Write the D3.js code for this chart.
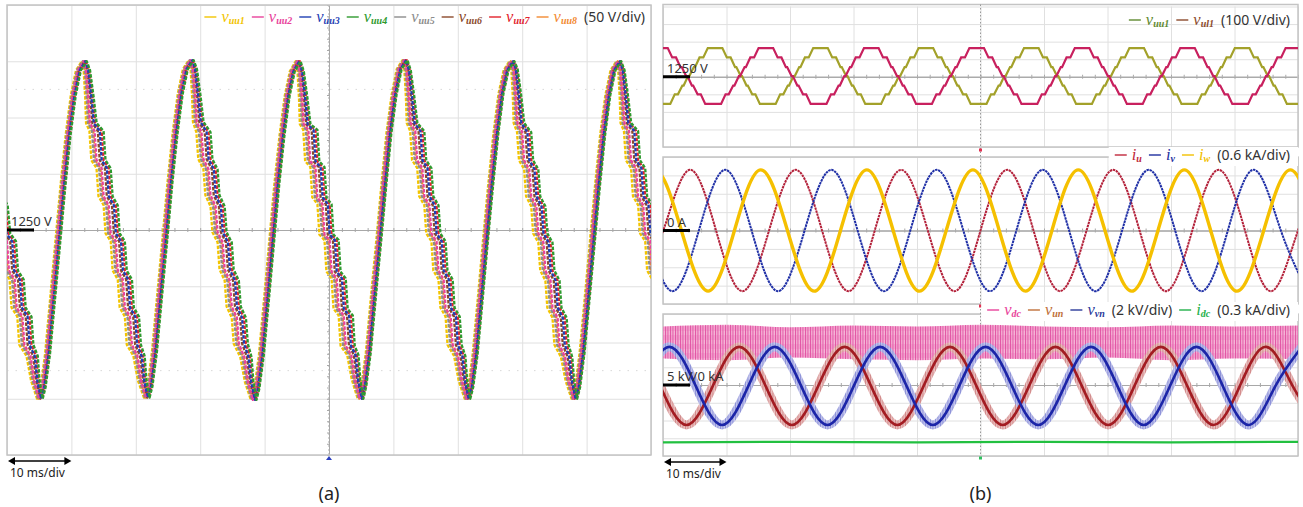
<!DOCTYPE html>
<html>
<head>
<meta charset="utf-8">
<script src="https://cdn.jsdelivr.net/npm/d3@7"></script>
<style>
  body { margin: 0; background: #fff; }
  svg { display: block; font-family: "Noto Sans", "Open Sans", sans-serif; }
  .grid line { stroke: #e0e0e0; stroke-width: 1; }
  .grid path { display: none; }
  .center path { stroke: #a8a8a8; }
  .center line { stroke: #a8a8a8; }
</style>
</head>
<body>
<svg id="chart" width="1303" height="507"></svg>
<script>
// ---- panel (a): eight upper-arm submodule voltages ----
var vuuNames  = ["uu1", "uu2", "uu3", "uu4", "uu5", "uu6", "uu7", "uu8"];
var vuuColors = ["#f2c400", "#e8439b", "#1f3fb4", "#2e9a2e", "#8c8c8c", "#8b4a2b", "#e2222c", "#f28a32"];
var vuuLag    = [-1.1, -0.3, 0.5, 1.1, -0.7, 0.2, 0.8, -0.5];   // ms, how far each trace sits from the bundle centre
var vuuDrawOrder = [0, 7, 4, 5, 1, 6, 2, 3];

// [time ms, voltage V, bundle spread 0..1]
var vuuBase = [
  [-1.8,1280,1],[-1.0,1272,1],[-0.6,1247,1],[0.3,1240,1],[0.6,1214,1],[1.5,1206,1],[1.8,1181,1],[2.7,1173,1],[3.0,1148,1],[3.9,1138,.8],[4.4,1116,.6],
  [5.1,1100,.4],[5.6,1110,.35],[6.3,1140,.35],[7.1,1190,.35],[7.9,1240,.35],[8.7,1290,.35],[9.5,1335,.35],[10.3,1370,.35],[11.1,1392,.35],[12.0,1400,.35],
  [12.4,1392,.45],[12.8,1368,.6],[13.1,1345,.75],[13.9,1338,1],[14.2,1312,1],[15.0,1305,1],[15.3,1280,1],[16.1,1272,1],[16.4,1247,1],[17.2,1240,1],
  [17.5,1214,1],[18.3,1206,1],[18.6,1181,1],[19.4,1173,1],[19.7,1148,1],[20.5,1138,.8],[21.0,1116,.6],
  [21.7,1101,.4],[22.2,1111,.35],[22.9,1142,.35],[23.7,1192,.35],[24.5,1241,.35],[25.3,1292,.35],[26.1,1336,.35],[26.9,1371,.35],[27.7,1393,.35],[28.6,1401,.35],
  [29.0,1393,.45],[29.4,1369,.6],[29.7,1346,.75],[30.5,1337,1],[30.8,1313,1],[31.6,1304,1],[31.9,1281,1],[32.7,1271,1],[33.0,1248,1],[33.8,1239,1],
  [34.1,1215,1],[34.9,1205,1],[35.2,1182,1],[36.0,1172,1],[36.3,1149,1],[37.1,1137,.8],[37.6,1115,.6],
  [38.3,1099,.4],[38.8,1109,.35],[39.5,1139,.35],[40.3,1189,.35],[41.1,1240,.35],[41.9,1291,.35],[42.7,1334,.35],[43.5,1369,.35],[44.3,1391,.35],[45.2,1400,.35],
  [45.6,1391,.45],[46.0,1367,.6],[46.3,1344,.75],[47.1,1339,1],[47.4,1311,1],[48.2,1306,1],[48.5,1279,1],[49.3,1273,1],[49.6,1246,1],[50.4,1241,1],
  [50.7,1213,1],[51.5,1207,1],[51.8,1180,1],[52.6,1174,1],[52.9,1147,1],[53.7,1139,.8],[54.2,1117,.6],
  [54.9,1100,.4],[55.4,1111,.35],[56.1,1141,.35],[56.9,1191,.35],[57.7,1239,.35],[58.5,1289,.35],[59.3,1336,.35],[60.1,1370,.35],[60.9,1393,.35],[61.8,1401,.35],
  [62.2,1392,.45],[62.6,1368,.6],[62.9,1345,.75],[63.7,1338,1],[64.0,1312,1],[64.8,1305,1],[65.1,1280,1],[65.9,1272,1],[66.2,1247,1],[67.0,1240,1],
  [67.3,1214,1],[68.1,1206,1],[68.4,1181,1],[69.2,1173,1],[69.5,1148,1],[70.3,1138,.8],[70.8,1116,.6],
  [71.5,1100,.4],[72.0,1110,.35],[72.7,1140,.35],[73.5,1190,.35],[74.3,1241,.35],[75.1,1290,.35],[75.9,1335,.35],[76.7,1371,.35],[77.5,1392,.35],[78.4,1400,.35],
  [78.8,1393,.45],[79.2,1369,.6],[79.5,1345,.75],[80.3,1337,1],[80.6,1312,1],[81.4,1304,1],[81.7,1280,1],[82.5,1271,1],[82.8,1247,1],[83.6,1239,1],
  [83.9,1214,1],[84.7,1205,1],[85.0,1181,1],[85.8,1172,1],[86.1,1148,1],[86.9,1137,.8],[87.4,1116,.6],
  [88.1,1100,.4],[88.6,1110,.35],[89.3,1141,.35],[90.1,1190,.35],[90.9,1240,.35],[91.7,1290,.35],[92.5,1335,.35],[93.3,1370,.35],[94.1,1392,.35],[95.0,1400,.35],
  [95.4,1392,.45],[95.8,1368,.6],[96.1,1345,.75],[96.9,1338,1],[97.2,1312,1],[98.0,1305,1],[98.3,1280,1],[99.1,1272,1],[99.4,1247,1],[100.2,1240,1],[100.5,1214,1],[101.3,1206,1]
];

// ---- panel (b) top: arm voltages, [step time ms, level V] ----
var vuu1Steps = [
  [0,1095],[1.5,1150],[2.7,1200],[3.6,1254],[4.5,1305],[5.4,1360],[6.7,1413],[9.7,1360],[11.0,1305],[11.9,1254],[12.8,1200],[13.7,1150],[14.9,1095],
  [18.1,1150],[19.3,1200],[20.2,1254],[21.1,1305],[22.0,1360],[23.3,1413],[26.3,1360],[27.6,1305],[28.5,1254],[29.4,1200],[30.3,1150],[31.5,1095],
  [34.7,1150],[35.9,1200],[36.8,1254],[37.7,1305],[38.6,1360],[39.9,1413],[42.9,1360],[44.2,1305],[45.1,1254],[46.0,1200],[46.9,1150],[48.1,1095],
  [51.3,1150],[52.5,1200],[53.4,1254],[54.3,1305],[55.2,1360],[56.5,1413],[59.5,1360],[60.8,1305],[61.7,1254],[62.6,1200],[63.5,1150],[64.7,1095],
  [67.9,1150],[69.1,1200],[70.0,1254],[70.9,1305],[71.8,1360],[73.1,1413],[76.1,1360],[77.4,1305],[78.3,1254],[79.2,1200],[80.1,1150],[81.3,1095],
  [84.5,1150],[85.7,1200],[86.6,1254],[87.5,1305],[88.4,1360],[89.7,1413],[92.7,1360],[94.0,1305],[94.9,1254],[95.8,1200],[96.7,1150],[97.9,1095],
  [100,1095]
];
var vul1Steps = [
  [0,1413],[1.1,1360],[2.4,1305],[3.3,1254],[4.2,1200],[5.1,1150],[6.3,1095],
  [9.5,1150],[10.7,1200],[11.6,1254],[12.5,1305],[13.4,1360],[14.7,1413],[17.7,1360],[19.0,1305],[19.9,1254],[20.8,1200],[21.7,1150],[22.9,1095],
  [26.1,1150],[27.3,1200],[28.2,1254],[29.1,1305],[30.0,1360],[31.3,1413],[34.3,1360],[35.6,1305],[36.5,1254],[37.4,1200],[38.3,1150],[39.5,1095],
  [42.7,1150],[43.9,1200],[44.8,1254],[45.7,1305],[46.6,1360],[47.9,1413],[50.9,1360],[52.2,1305],[53.1,1254],[54.0,1200],[54.9,1150],[56.1,1095],
  [59.3,1150],[60.5,1200],[61.4,1254],[62.3,1305],[63.2,1360],[64.5,1413],[67.5,1360],[68.8,1305],[69.7,1254],[70.6,1200],[71.5,1150],[72.7,1095],
  [75.9,1150],[77.1,1200],[78.0,1254],[78.9,1305],[79.8,1360],[81.1,1413],[84.1,1360],[85.4,1305],[86.3,1254],[87.2,1200],[88.1,1150],[89.3,1095],
  [92.5,1150],[93.7,1200],[94.6,1254],[95.5,1305],[96.4,1360],[97.7,1413],[100,1413]
];
var stepRamp = 0.35;   // ms of slope on each side of a level change

// ---- panel (b) middle: phase currents, kA (peaks, zeros, troughs) ----
var iuPts = [[-4.1,-1.98],[0.05,0],[4.2,1.98],[8.35,0],[12.5,-1.98],[16.7,0],[20.9,1.98],[25.05,0],[29.2,-1.98],[33.35,0],[37.5,1.98],[41.7,0],[45.9,-1.98],[50.0,0],[54.2,1.98],[58.35,0],[62.5,-1.98],[66.7,0],[70.9,1.98],[75.05,0],[79.2,-1.98],[83.35,0],[87.5,1.98],[91.65,0],[95.8,-1.98],[100,0],[104.1,1.98]];
var ivPts = [[-2.65,0],[1.5,-1.98],[5.65,0],[9.8,1.98],[13.95,0],[18.1,-1.98],[22.3,0],[26.5,1.98],[30.65,0],[34.8,-1.98],[38.95,0],[43.1,1.98],[47.3,0],[51.5,-1.98],[55.65,0],[59.8,1.98],[63.95,0],[68.1,-1.98],[72.3,0],[76.5,1.98],[80.65,0],[84.8,-1.98],[88.95,0],[93.1,1.98],[97.3,0],[101.5,-1.98]];
var iwPts = [[-5.45,0],[-1.3,1.98],[2.9,0],[7.1,-1.98],[11.25,0],[15.4,1.98],[19.6,0],[23.8,-1.98],[27.95,0],[32.1,1.98],[36.25,0],[40.4,-1.98],[44.6,0],[48.8,1.98],[52.95,0],[57.1,-1.98],[61.25,0],[65.4,1.98],[69.6,0],[73.8,-1.98],[77.95,0],[82.1,1.98],[86.25,0],[90.4,-1.98],[94.6,0],[98.8,1.98],[102.95,0]];

// ---- panel (b) bottom: dc voltage band, pole voltages (kV), dc current (kA) ----
var vdcTime   = [0, 10, 20, 30, 40, 50, 60, 70, 80, 90, 100];
var vdcTop    = [11.6, 11.8, 11.5, 11.7, 11.6, 11.8, 11.6, 11.5, 11.7, 11.6, 11.7];
var vdcBottom = [8.0, 7.8, 8.1, 7.9, 7.8, 8.0, 7.9, 8.1, 7.8, 8.0, 7.9];
var vunPts = [[-0.45,4.9],[3.7,0.5],[7.85,4.9],[12.0,9.3],[16.15,4.9],[20.3,0.5],[24.45,4.9],[28.6,9.3],[32.75,4.9],[36.9,0.5],[41.05,4.9],[45.2,9.3],[49.35,4.9],[53.5,0.5],[57.65,4.9],[61.8,9.3],[65.95,4.9],[70.1,0.5],[74.25,4.9],[78.4,9.3],[82.55,4.9],[86.7,0.5],[90.85,4.9],[95.0,9.3],[99.15,4.9],[103.3,0.5]];
var vvnPts = [[-3.15,4.9],[1.0,9.3],[5.15,4.9],[9.3,0.5],[13.45,4.9],[17.6,9.3],[21.75,4.9],[25.9,0.5],[30.05,4.9],[34.2,9.3],[38.35,4.9],[42.5,0.5],[46.65,4.9],[50.8,9.3],[54.95,4.9],[59.1,0.5],[63.25,4.9],[67.4,9.3],[71.55,4.9],[75.7,0.5],[79.85,4.9],[84.0,9.3],[88.15,4.9],[92.3,0.5],[96.45,4.9],[100.6,9.3]];
var idcPts = [[0,-0.97],[20,-0.96],[40,-0.97],[60,-0.96],[80,-0.97],[100,-0.96]];

var divTicks = d3.range(0, 101, 10);

var svg = d3.select("#chart");
var defs = svg.append("defs");

// striped fills that stand in for the switching ripple
function stripes(id, w, h, bg, lines) {
  var p = defs.append("pattern").attr("id", id)
    .attr("patternUnits", "userSpaceOnUse").attr("width", w).attr("height", h);
  p.append("rect").attr("width", w).attr("height", h).attr("fill", bg);
  lines.forEach(function(l) {
    p.append("line").attr("x1", l[0]).attr("x2", l[0]).attr("y1", l[1]).attr("y2", l[2])
      .attr("stroke", l[3]).attr("stroke-width", l[4]);
  });
}
stripes("vdcNoise", 2.5, 9, "#f5b5d7", [[0.5, 0, 9, "#e04a9f", 0.9], [1.7, 2, 7, "#ec7fbd", 0.6]]);
stripes("unNoise", 2.5, 7, "#ebc4c4", [[0.5, 0, 7, "#c97777", 0.8], [1.7, 1, 5, "#dba0a0", 0.6]]);
stripes("vnNoise", 2.5, 7, "#c6c7ec", [[0.5, 0, 7, "#7a7fd3", 0.8], [1.7, 1, 5, "#a3a6e0", 0.6]]);

function addClip(id, x0, y0, x1, y1) {
  defs.append("clipPath").attr("id", id).append("rect")
    .attr("x", x0).attr("y", y0).attr("width", x1 - x0).attr("height", y1 - y0);
}

function grid(g, x, y, yTicks) {
  var y0 = y.range()[0], y1 = y.range()[1];
  g.append("g").attr("class", "grid")
    .attr("transform", "translate(0," + y0 + ")")
    .call(d3.axisBottom(x).tickValues(divTicks).tickSize(-(y0 - y1)).tickFormat(""));
  g.append("g").attr("class", "grid")
    .attr("transform", "translate(" + x.range()[0] + ",0)")
    .call(d3.axisLeft(y).tickValues(yTicks).tickSize(-(x.range()[1] - x.range()[0])).tickFormat(""));
}

function centerAxis(g, x, yPos) {
  g.append("g").attr("class", "center").attr("transform", "translate(0," + yPos + ")")
    .call(d3.axisBottom(x).ticks(50).tickSize(2).tickSizeOuter(0).tickFormat(""));
  g.append("g").attr("class", "center").attr("transform", "translate(0," + yPos + ")")
    .call(d3.axisTop(x).ticks(50).tickSize(2).tickSizeOuter(0).tickFormat(""));
}

function drawLegend(tokens, rightX, baseY, bg) {
  var g = svg.append("g");
  var box = bg ? g.append("rect").attr("fill", "#fff") : null;
  var cx = 0;
  tokens.forEach(function(tk) {
    if (tk.swatch) {
      g.append("line").attr("x1", cx).attr("x2", cx + 12)
        .attr("y1", baseY - 5).attr("y2", baseY - 5)
        .attr("stroke", tk.swatch).attr("stroke-width", 1.4);
      cx += 17;
    } else if (tk.sym) {
      var t = g.append("text").attr("x", cx).attr("y", baseY).attr("fill", tk.color)
        .attr("font-family", "'Liberation Serif', 'DejaVu Serif', serif").attr("font-style", "italic");
      t.append("tspan").attr("font-size", 16.5).text(tk.sym);
      t.append("tspan").attr("font-size", 10).attr("font-weight", "bold").attr("dy", 2).text(tk.sub);
      cx += t.node().getComputedTextLength() + 7;
    } else {
      var s = g.append("text").attr("x", cx).attr("y", baseY).attr("fill", "#333")
        .attr("font-size", 14).text(tk.text);
      cx += s.node().getComputedTextLength() + 7;
    }
  });
  var w = cx - 7;
  g.attr("transform", "translate(" + (rightX - w) + ",0)");
  if (box) box.attr("x", -6).attr("y", bg[0]).attr("width", w + 14).attr("height", bg[1] - bg[0]);
}

function offsetLabel(x0, yLine, text) {
  svg.append("line").attr("x1", x0).attr("x2", x0 + 27).attr("y1", yLine).attr("y2", yLine)
    .attr("stroke", "#000").attr("stroke-width", 3);
  svg.append("text").attr("x", x0 + 4).attr("y", yLine - 4).attr("font-size", 13)
    .attr("fill", "#333").text(text);
}

function timeArrow(x, y) {
  var xa = x(0) + 1, xb = x(10);
  svg.append("line").attr("x1", xa + 4).attr("x2", xb - 4).attr("y1", y).attr("y2", y)
    .attr("stroke", "#000").attr("stroke-width", 1.5);
  svg.append("path").attr("d", "M" + xa + "," + y + "l7,-4v8z").attr("fill", "#000");
  svg.append("path").attr("d", "M" + xb + "," + y + "l-7,-4v8z").attr("fill", "#000");
  svg.append("text").attr("x", xa + 2).attr("y", y + 16).attr("font-size", 12)
    .attr("fill", "#222").text("10 ms/div");
}

// ================= panel (a) =================
var ax = d3.scaleLinear().domain([0, 100]).range([7, 651]);
var ay = d3.scaleLinear().domain([1050, 1450]).range([455, 5]);
var ga = svg.append("g");
grid(ga, ax, ay, d3.range(1050, 1451, 50));
[1375, 1125].forEach(function(v) {
  ga.append("line").attr("x1", ax(0)).attr("x2", ax(100)).attr("y1", ay(v)).attr("y2", ay(v))
    .attr("stroke", "#d8d8d8").attr("stroke-dasharray", "1.5 7");
});
centerAxis(ga, ax, ay(1250));
ga.append("line").attr("x1", ax(50)).attr("x2", ax(50)).attr("y1", ay(1450)).attr("y2", ay(1050))
  .attr("stroke", "#a8a8a8").attr("stroke-dasharray", "2 2");
ga.append("g").attr("class", "center").attr("transform", "translate(" + ax(50) + ",0)")
  .call(d3.axisLeft(ay).ticks(40).tickSize(2).tickSizeOuter(0).tickFormat(""));
ga.append("rect").attr("x", ax(0)).attr("y", ay(1450)).attr("width", ax(100) - ax(0))
  .attr("height", ay(1050) - ay(1450)).attr("fill", "none").attr("stroke", "#c4c4c4").attr("stroke-width", 1.5);
addClip("clipA", ax(0), ay(1450), ax(100), ay(1050));

var traceA = ga.append("g").attr("clip-path", "url(#clipA)");
vuuDrawOrder.forEach(function(i, k) {
  var line = d3.line()
    .x(function(d) { return ax(d[0] + d[2] * vuuLag[i]); })
    .y(function(d) { return ay(d[1]); });
  traceA.append("path").datum(vuuBase).attr("d", line)
    .attr("fill", "none").attr("stroke", vuuColors[i]).attr("stroke-width", 2.3)
    .attr("stroke-linejoin", "round")
    .attr("stroke-dasharray", "3.5 1.5").attr("stroke-dashoffset", k * 0.6);
});
ga.append("path").attr("d", "M" + ax(50) + "," + (ay(1050) + 1) + "l-3,4h6z").attr("fill", "#2a3fc0");

var legA = [];
vuuNames.forEach(function(n, i) {
  legA.push({ swatch: vuuColors[i] });
  legA.push({ sym: "v", sub: n, color: vuuColors[i] });
});
legA.push({ text: "(50 V/div)" });
drawLegend(legA, 645, 22);

offsetLabel(7, ay(1250), "1250 V");
timeArrow(ax, 461);
svg.append("text").attr("x", ax(50)).attr("y", 500).attr("text-anchor", "middle")
  .attr("font-size", 18).attr("fill", "#222").text("(a)");

// ================= panel (b) =================
var bx = d3.scaleLinear().domain([0, 100]).range([663, 1298]);
var yTop = d3.scaleLinear().domain([850, 1650]).range([147, 6.5]);
var yMid = d3.scaleLinear().domain([-2.4, 2.4]).range([304, 157]);
var yBotV = d3.scaleLinear().domain([-3, 13]).range([456, 314]);
var yBotI = d3.scaleLinear().domain([-1.2, 1.2]).range([456, 314]);

var gb = svg.append("g");
var subs = [
  { y: yTop, ticks: d3.range(850, 1651, 100), zero: 1250, top: 4.5 },
  { y: yMid, ticks: d3.range(-2.4, 2.41, 0.6), zero: 0, top: 157 },
  { y: yBotV, ticks: d3.range(-3, 13.1, 2), zero: 5, top: 314 }
];
subs.forEach(function(s, k) {
  grid(gb, bx, s.y, s.ticks);
  centerAxis(gb, bx, s.y(s.zero));
  gb.append("rect").attr("x", bx(0)).attr("y", s.top).attr("width", bx(100) - bx(0))
    .attr("height", s.y.range()[0] - s.top).attr("fill", "none")
    .attr("stroke", "#c4c4c4").attr("stroke-width", 1.5);
  addClip("clipB" + k, bx(0), s.top, bx(100), s.y.range()[0]);
});
gb.append("line").attr("x1", bx(50)).attr("x2", bx(50)).attr("y1", 4.5).attr("y2", 456)
  .attr("stroke", "#9a9a9a").attr("stroke-dasharray", "1.5 2");

// top: staircase arm voltages, each level change drawn as a short slope
function stairPath(steps) {
  var out = [steps[0]];
  for (var k = 1; k < steps.length; k++) {
    if (steps[k][1] === steps[k - 1][1]) { out.push(steps[k]); continue; }
    out.push([steps[k][0] - stepRamp, steps[k - 1][1]]);
    out.push([steps[k][0] + stepRamp, steps[k][1]]);
  }
  return out;
}
var stairLine = d3.line()
  .x(function(d) { return bx(d[0]); }).y(function(d) { return yTop(d[1]); });
var gTop = gb.append("g").attr("clip-path", "url(#clipB0)");
gTop.append("path").datum(stairPath(vuu1Steps)).attr("d", stairLine).attr("fill", "none")
  .attr("stroke", "#a3a12a").attr("stroke-width", 2.2);
gTop.append("path").datum(stairPath(vul1Steps)).attr("d", stairLine).attr("fill", "none")
  .attr("stroke", "#c8205e").attr("stroke-width", 2.2);

// middle: phase currents
var curLine = d3.line().curve(d3.curveNatural)
  .x(function(d) { return bx(d[0]); }).y(function(d) { return yMid(d[1]); });
var gMid = gb.append("g").attr("clip-path", "url(#clipB1)");
gMid.append("path").datum(iuPts).attr("d", curLine).attr("fill", "none")
  .attr("stroke", "#b3213a").attr("stroke-width", 2).attr("stroke-dasharray", "2.5 0.7");
gMid.append("path").datum(ivPts).attr("d", curLine).attr("fill", "none")
  .attr("stroke", "#1f2fa6").attr("stroke-width", 2).attr("stroke-dasharray", "2.5 0.7");
gMid.append("path").datum(iwPts).attr("d", curLine).attr("fill", "none")
  .attr("stroke", "#f5c000").attr("stroke-width", 3.4);

// bottom: dc link, pole voltages, dc current
var gBot = gb.append("g").attr("clip-path", "url(#clipB2)");
var vdcRows = vdcTime.map(function(t, i) { return [t, vdcTop[i], vdcBottom[i]]; });
gBot.append("path").datum(vdcRows)
  .attr("d", d3.area().curve(d3.curveMonotoneX)
    .x(function(d) { return bx(d[0]); })
    .y0(function(d) { return yBotV(d[2]); })
    .y1(function(d) { return yBotV(d[1]); }))
  .attr("fill", "url(#vdcNoise)");
var poleLine = d3.line().curve(d3.curveNatural)
  .x(function(d) { return bx(d[0]); }).y(function(d) { return yBotV(d[1]); });
gBot.append("path").datum(vunPts).attr("d", poleLine).attr("fill", "none")
  .attr("stroke", "url(#unNoise)").attr("stroke-width", 9);
gBot.append("path").datum(vvnPts).attr("d", poleLine).attr("fill", "none")
  .attr("stroke", "url(#vnNoise)").attr("stroke-width", 9);
gBot.append("path").datum(vunPts).attr("d", poleLine).attr("fill", "none")
  .attr("stroke", "#a31c22").attr("stroke-width", 2.6);
gBot.append("path").datum(vvnPts).attr("d", poleLine).attr("fill", "none")
  .attr("stroke", "#1c25a8").attr("stroke-width", 2.6);
gBot.append("path").datum(idcPts)
  .attr("d", d3.line().x(function(d) { return bx(d[0]); }).y(function(d) { return yBotI(d[1]); }))
  .attr("fill", "none").attr("stroke", "#22c040").attr("stroke-width", 2.2);

// trigger markers on the centre line
[[150, "#e03050"], [306, "#e03050"], [458, "#30c060"]].forEach(function(m) {
  gb.append("rect").attr("x", bx(50) - 1.5).attr("y", m[0] - 1.5).attr("width", 3).attr("height", 3).attr("fill", m[1]);
});

drawLegend([
  { swatch: "#5f8a30" }, { sym: "v", sub: "uu1", color: "#5f8a30" },
  { swatch: "#8b4a2b" }, { sym: "v", sub: "ul1", color: "#8b4a2b" },
  { text: "(100 V/div)" }
], 1290, 25);
drawLegend([
  { swatch: "#c0283c" }, { sym: "i", sub: "u", color: "#c0283c" },
  { swatch: "#1f2fa0" }, { sym: "i", sub: "v", color: "#1f2fa0" },
  { swatch: "#f2c000" }, { sym: "i", sub: "w", color: "#f2c000" },
  { text: "(0.6 kA/div)" }
], 1290, 160, [147, 166]);
drawLegend([
  { swatch: "#e8439b" }, { sym: "v", sub: "dc", color: "#e8439b" },
  { swatch: "#c0703a" }, { sym: "v", sub: "un", color: "#c0703a" },
  { swatch: "#2a3a9a" }, { sym: "v", sub: "vn", color: "#2a3a9a" },
  { text: "(2 kV/div)" },
  { swatch: "#22b04a" }, { sym: "i", sub: "dc", color: "#22b04a" },
  { text: "(0.3 kA/div)" }
], 1290, 315, [302, 321]);

offsetLabel(bx(0), yTop(1250), "1250 V");
offsetLabel(bx(0), yMid(0), "0 A");
offsetLabel(bx(0), yBotV(5), "5 kV/0 kA");
timeArrow(bx, 462);
svg.append("text").attr("x", bx(50)).attr("y", 500).attr("text-anchor", "middle")
  .attr("font-size", 18).attr("fill", "#222").text("(b)");
</script>
</body>
</html>
